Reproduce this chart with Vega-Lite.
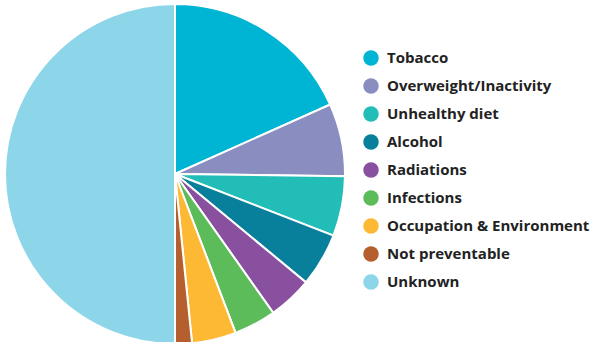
{
  "$schema": "https://vega.github.io/schema/vega-lite/v6.json",
  "width": 350,
  "height": 342,
  "padding": 0,
  "background": "white",
  "config": {"view": {"stroke": null}},
  "data": {"values": [
    {"cause": "Tobacco", "pct": 18.3, "ord": 1},
    {"cause": "Overweight/Inactivity", "pct": 6.9, "ord": 2},
    {"cause": "Unhealthy diet", "pct": 5.7, "ord": 3},
    {"cause": "Alcohol", "pct": 5.1, "ord": 4},
    {"cause": "Radiations", "pct": 4.2, "ord": 5},
    {"cause": "Infections", "pct": 4.0, "ord": 6},
    {"cause": "Occupation & Environment", "pct": 4.2, "ord": 7},
    {"cause": "Not preventable", "pct": 1.6, "ord": 8},
    {"cause": "Unknown", "pct": 50.0, "ord": 9}
  ]},
  "mark": {"type": "arc", "stroke": "white", "strokeWidth": 2, "radius": 170},
  "encoding": {
    "theta": {"field": "pct", "type": "quantitative", "stack": true},
    "order": {"field": "ord", "type": "quantitative"},
    "color": {
      "field": "cause",
      "type": "nominal",
      "scale": {
        "domain": ["Tobacco", "Overweight/Inactivity", "Unhealthy diet", "Alcohol", "Radiations", "Infections", "Occupation & Environment", "Not preventable", "Unknown"],
        "range": ["#00b4d4", "#8a8dbf", "#22bdb6", "#087f9b", "#8a50a0", "#5cbc5a", "#fdb933", "#b55f2f", "#8dd5e8"]
      },
      "legend": {
        "title": null,
        "orient": "none",
        "legendX": 363,
        "legendY": 47,
        "symbolType": "circle",
        "symbolSize": 240,
        "symbolStrokeWidth": 0,
        "labelFont": "Open Sans",
        "labelFontWeight": "bold",
        "labelFontSize": 15,
        "labelColor": "#222222",
        "labelOffset": 8,
        "rowPadding": 12,
        "labelLimit": 300
      }
    }
  }
}
